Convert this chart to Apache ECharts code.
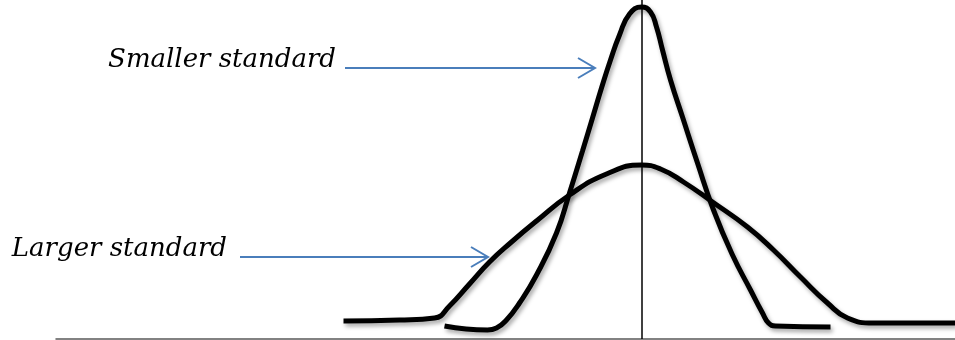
<!DOCTYPE html>
<html>
<head>
<meta charset="utf-8">
<script src="https://cdn.jsdelivr.net/npm/echarts@6/dist/echarts.min.js"></script>
<style>
  html, body { margin: 0; padding: 0; background: #fff; }
  #main { width: 955px; height: 340px; }
</style>
</head>
<body>
<div id="main"></div>
<script>
// hand drawn curves, x centred on the mean
var smallerCurve = [
  [-1.97, 0.13], [-1.54, 0.09], [-1.45, 0.11], [-1.35, 0.19], [-1.22, 0.36],
  [-1.05, 0.64], [-0.85, 1.06], [-0.72, 1.46], [-0.59, 1.88], [-0.49, 2.21],
  [-0.40, 2.51], [-0.31, 2.79], [-0.22, 3.04], [-0.12, 3.25], [0, 3.32],
  [0.09, 3.27], [0.15, 3.12], [0.21, 2.89], [0.29, 2.59], [0.41, 2.22],
  [0.56, 1.76], [0.72, 1.29], [0.91, 0.84], [1.09, 0.49], [1.21, 0.26],
  [1.27, 0.16], [1.34, 0.13], [1.89, 0.12]
];
var largerCurve = [
  [-2.98, 0.18], [-2.42, 0.19], [-2.07, 0.21], [-1.92, 0.33], [-1.72, 0.55],
  [-1.52, 0.77], [-1.30, 0.97], [-1.05, 1.18], [-0.72, 1.44], [-0.35, 1.65],
  [0, 1.74], [0.19, 1.70], [0.42, 1.57], [0.71, 1.37], [1.06, 1.12],
  [1.32, 0.89], [1.59, 0.62], [1.86, 0.36], [2.06, 0.21], [2.32, 0.16],
  [3.14, 0.16]
];
var meanX = 0;

// annotation labels and their arrows (start x, end x, y)
var labels = ['Smaller standard', 'Larger standard'];
var arrows = [[-2.965, -0.465, 2.71], [-4.015, -1.535, 0.82]];
var labelGap = [9, 13];

var chart = echarts.init(document.getElementById('main'));

var curveStyle = {
  color: '#000',
  width: 5,
  shadowColor: 'rgba(0,0,0,0.35)',
  shadowBlur: 4,
  shadowOffsetX: 2,
  shadowOffsetY: 3
};

chart.setOption({
  animation: false,
  grid: { left: 56, right: 0, top: 0, bottom: 1 },
  xAxis: {
    type: 'value', min: -5.855, max: 3.135,
    axisLine: { show: true, lineStyle: { color: '#5a5a5a', width: 1.5 } },
    axisTick: { show: false }, axisLabel: { show: false }, splitLine: { show: false }
  },
  yAxis: {
    type: 'value', min: 0, max: 3.39, show: false
  },
  series: [
    {
      type: 'line', data: smallerCurve, smooth: 0.5, showSymbol: false,
      lineStyle: curveStyle,
      markLine: {
        silent: true, symbol: 'none', label: { show: false },
        lineStyle: { color: '#000', width: 1.5, type: 'solid' },
        data: [{ xAxis: meanX }]
      }
    },
    {
      type: 'line', data: largerCurve, smooth: 0.5, showSymbol: false,
      lineStyle: curveStyle
    }
  ]
});

// arrows + labels placed from data coords
var gfx = [];
arrows.forEach(function (a, i) {
  var p0 = chart.convertToPixel({ gridIndex: 0 }, [a[0], a[2]]);
  var p1 = chart.convertToPixel({ gridIndex: 0 }, [a[1], a[2]]);
  var arrowStyle = { stroke: '#4a7ebb', lineWidth: 2, fill: null };
  gfx.push({ type: 'line', shape: { x1: p0[0], y1: p0[1], x2: p1[0], y2: p1[1] }, style: arrowStyle });
  gfx.push({
    type: 'polyline',
    shape: { points: [[p1[0] - 17, p1[1] - 10], [p1[0], p1[1]], [p1[0] - 17, p1[1] + 10]] },
    style: arrowStyle
  });
  gfx.push({
    type: 'text', x: p0[0] - labelGap[i], y: p0[1] - 8,
    style: {
      text: labels[i], fill: '#000',
      font: 'italic 26px "DejaVu Serif"',
      align: 'right', verticalAlign: 'middle'
    }
  });
});
chart.setOption({ graphic: gfx });
</script>
</body>
</html>
